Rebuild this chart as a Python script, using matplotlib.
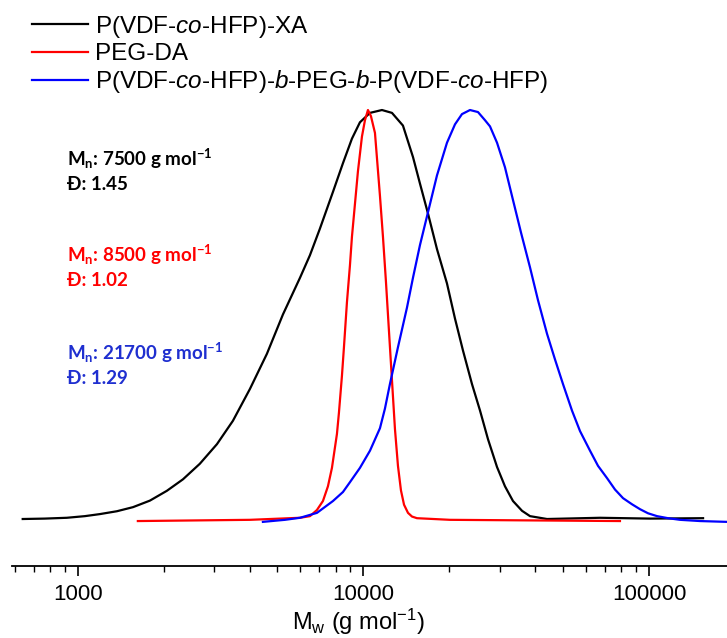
import numpy as np
import matplotlib
matplotlib.use('Agg')
import matplotlib.pyplot as plt
from matplotlib.ticker import LogLocator, NullFormatter, FixedLocator, FixedFormatter

plt.rcParams['font.family'] = ['Liberation Sans', 'DejaVu Sans']
plt.rcParams['mathtext.fontset'] = 'custom'
plt.rcParams['mathtext.default'] = 'regular'
plt.rcParams['mathtext.it'] = 'Liberation Sans:italic'
plt.rcParams['mathtext.rm'] = 'Liberation Sans'

# GPC traces (Mw in g/mol, normalised intensity)
black_mw = [641, 765, 915, 1058, 1194, 1370, 1560, 1788, 2050, 2333, 2673, 3069, 3490,
            4004, 4592, 5224, 5997, 6496, 7040, 7822, 8477, 9114, 9721, 10540, 11610,
            12585, 13750, 14910, 15775, 16826, 18090, 19610, 20920, 22310, 23990, 25600,
            27300, 29360, 31300, 33390, 35920, 38310, 43930, 67350, 100800, 154600]
black_int = [0.0, 0.001, 0.003, 0.007, 0.012, 0.019, 0.029, 0.045, 0.069, 0.097, 0.135, 0.183, 0.24,
             0.318, 0.404, 0.50, 0.59, 0.645, 0.71, 0.80, 0.87, 0.93, 0.97, 0.993, 1.0,
             0.993, 0.962, 0.885, 0.82, 0.747, 0.66, 0.576, 0.49, 0.412, 0.33, 0.265,
             0.195, 0.127, 0.08, 0.044, 0.02, 0.007, 0.0, 0.003, 0.001, 0.002]

red_mw = [1622, 4004, 5997, 6496, 6873, 7214, 7511, 7757, 8076, 8207, 8408, 8545, 8754,
          8968, 9114, 9337, 9565, 9879, 10122, 10370, 10624, 10973, 11424, 11704, 11990,
          12283, 12584, 12892, 13208, 13531, 13870, 14322, 14791, 15394, 20090, 79100]
red_int = [-0.005, -0.002, 0.003, 0.007, 0.022, 0.044, 0.08, 0.125, 0.208, 0.26, 0.35, 0.42, 0.53,
           0.62, 0.69, 0.77, 0.85, 0.935, 0.975, 1.0, 0.985, 0.944, 0.79, 0.69, 0.58,
           0.46, 0.34, 0.22, 0.13, 0.07, 0.035, 0.015, 0.006, 0.002, -0.002, -0.005]

blue_mw = [4446, 5309, 5997, 6873, 7822, 8477, 8968, 9721, 10540, 11424, 11893, 12380,
           13208, 14205, 14910, 15775, 16826, 18090, 19610, 20920, 22130, 23610, 25180,
           26650, 27740, 29360, 31300, 33390, 35630, 38310, 40850, 43930, 46860, 49970,
           53740, 57320, 62140, 66270, 71270, 76020, 81080, 87180, 92990, 99190, 106660,
           116550, 128440, 150850, 187500]
blue_int = [-0.007, -0.002, 0.003, 0.015, 0.044, 0.066, 0.09, 0.125, 0.167, 0.222, 0.27, 0.33,
            0.42, 0.517, 0.59, 0.67, 0.75, 0.84, 0.92, 0.965, 0.99, 1.0, 0.995,
            0.975, 0.96, 0.92, 0.86, 0.78, 0.70, 0.615, 0.535, 0.453, 0.39, 0.33,
            0.265, 0.215, 0.167, 0.13, 0.10, 0.072, 0.051, 0.036, 0.024, 0.014, 0.007,
            0.002, -0.002, -0.005, -0.007]

labels = ['P(VDF-$\\mathit{co}$-HFP)-XA', 'PEG-DA',
          'P(VDF-$\\mathit{co}$-HFP)-$\\mathit{b}$-PEG-$\\mathit{b}$-P(VDF-$\\mathit{co}$-HFP)']
mn_text = ['M$_n$: 7500 g mol$^{-1}$', 'M$_n$: 8500 g mol$^{-1}$', 'M$_n$: 21700 g mol$^{-1}$']
d_text = ['Đ: 1.45', 'Đ: 1.02', 'Đ: 1.29']

W, H = 727, 638
fig = plt.figure(figsize=(W / 100, H / 100), dpi=100)
ax = fig.add_axes([12 / W, (H - 566) / H, 715 / W, 566 / H])

ax.plot(black_mw, black_int, color='black', lw=1.6, label=labels[0])
ax.plot(red_mw, red_int, color='red', lw=1.6, label=labels[1])
ax.plot(blue_mw, blue_int, color='blue', lw=1.6, label=labels[2])

ax.set_xscale('log')
ax.set_xlim(588, 187500)
ax.set_ylim(-0.1149, 1.269)

for s in ['left', 'right', 'top']:
    ax.spines[s].set_visible(False)
ax.spines['bottom'].set_linewidth(1.3)
ax.set_yticks([])
ax.xaxis.set_major_locator(FixedLocator([1000, 10000, 100000]))
ax.xaxis.set_major_formatter(FixedFormatter(['1000', '10000', '100000']))
ax.xaxis.set_minor_locator(LogLocator(base=10, subs=np.arange(2, 10)))
ax.xaxis.set_minor_formatter(NullFormatter())
ax.tick_params(axis='x', which='major', length=7, width=1.2, labelsize=16, pad=6)
ax.tick_params(axis='x', which='minor', length=4, width=1.0)
ax.set_xlabel('M$_w$ (g mol$^{-1}$)', fontsize=17, labelpad=1)
ax.xaxis.label.set_x(0.484)

ax.legend(loc='upper left', bbox_to_anchor=(32 / W, 1 - 14 / H), bbox_transform=fig.transFigure,
          frameon=False, fontsize=17.5, handlelength=2.3, handletextpad=0.3,
          labelspacing=0.13, borderpad=0, borderaxespad=0)

colors = ['black', 'red', '#1f2fd0']
base_y = [166, 262, 360]
for i in range(3):
    fig.text(67 / W, 1 - base_y[i] / H, mn_text[i], color=colors[i], family='Lato',
             weight='bold', fontsize=13.5, va='baseline')
    fig.text(67 / W, 1 - (base_y[i] + 24) / H, d_text[i], color=colors[i], family='Lato',
             weight='bold', fontsize=13.5, va='baseline')

fig.savefig('out.png', dpi=100)
